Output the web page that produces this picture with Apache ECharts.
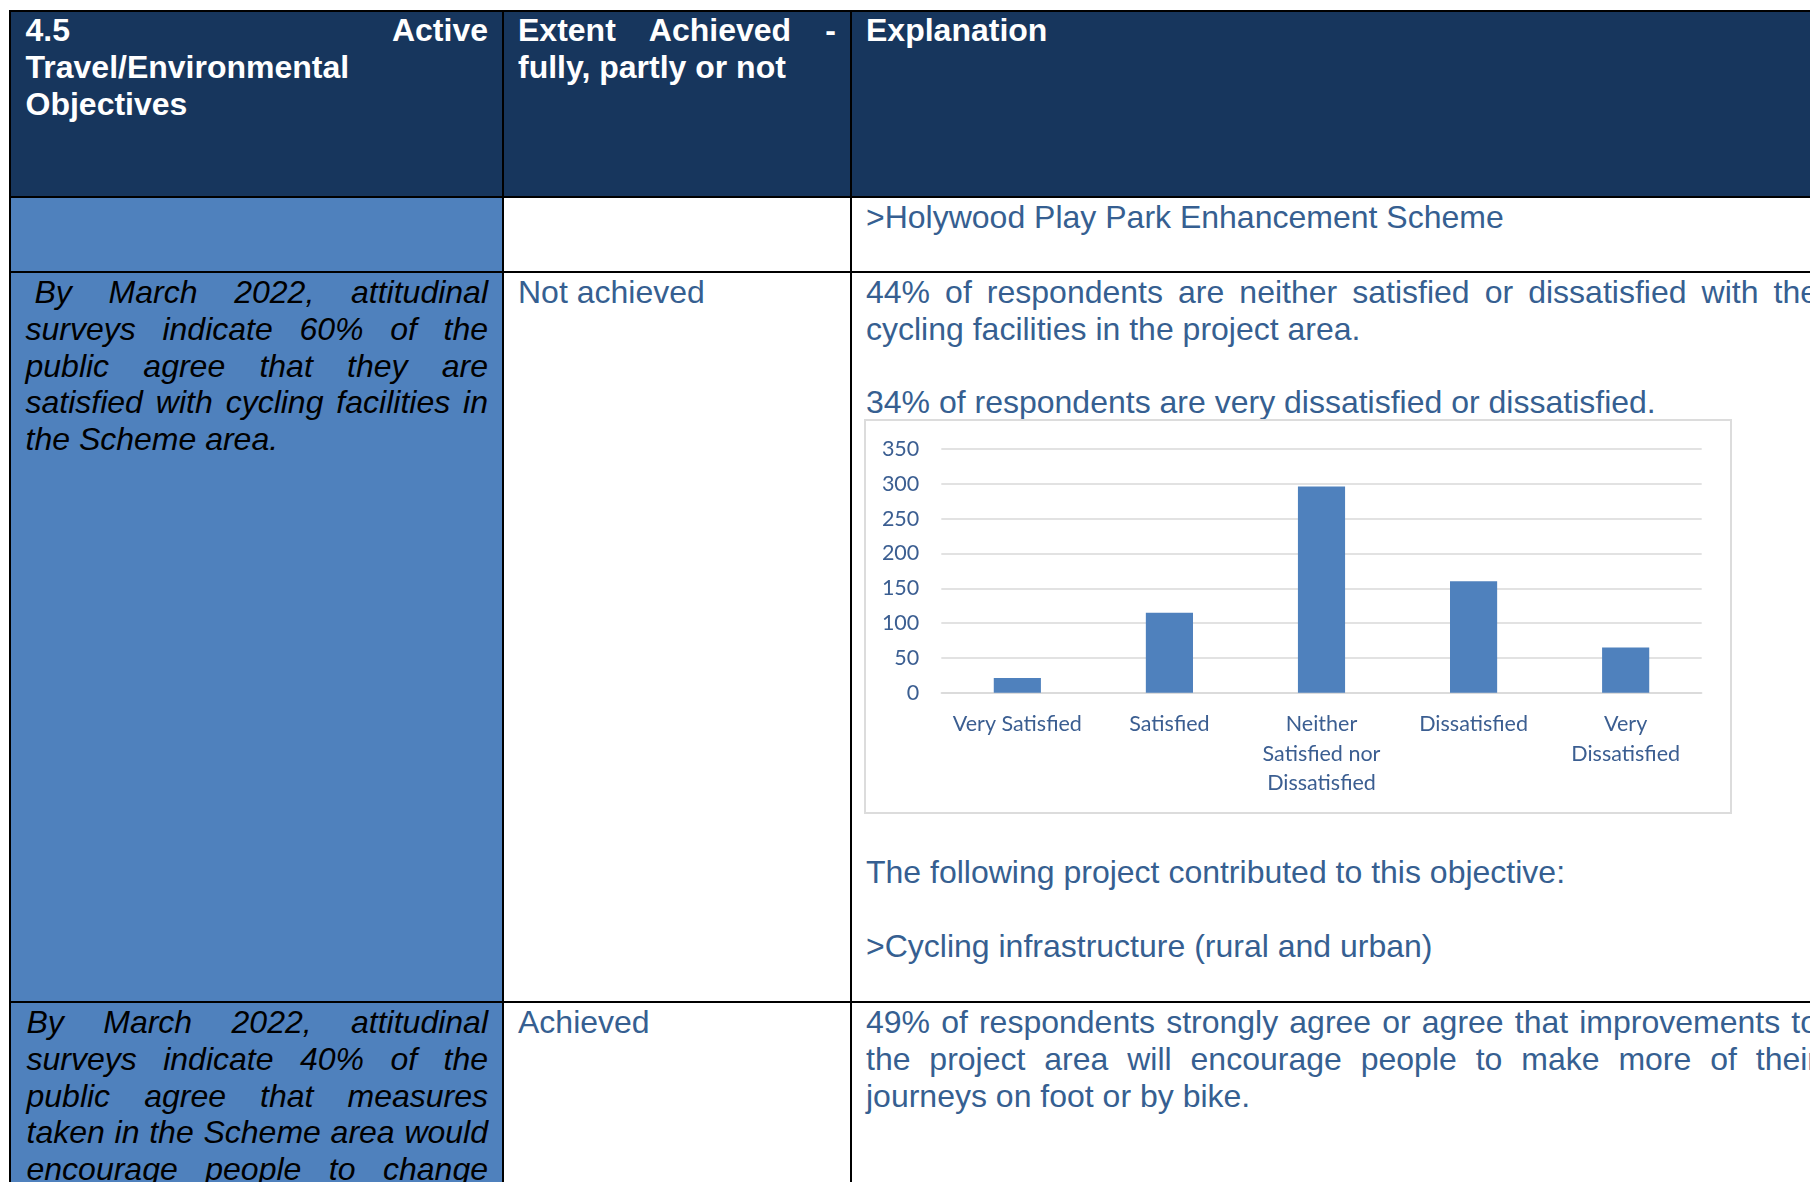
<!DOCTYPE html>
<html><head><meta charset="utf-8">
<script src="https://cdn.jsdelivr.net/npm/echarts@6/dist/echarts.min.js"></script>
<style>
html,body{margin:0;padding:0;background:#fff;}
body{width:1810px;height:1182px;overflow:hidden;position:relative;font-family:"Liberation Sans",Arial,sans-serif;font-size:32px;line-height:36.8px;}
.ln{position:absolute;background:#000;}
.bg{position:absolute;}
.t{position:absolute;}
.t div{min-height:36.8px;}
.j{text-align:justify;text-align-last:justify;}
.hd{color:#fff;font-weight:bold;}
.bd{color:#365F91;}
.it{color:#000;font-style:italic;}
#wrap{position:absolute;left:864px;top:419px;width:868px;height:395px;box-sizing:border-box;border:2px solid #DCDCDC;background:#fff;}
#chart{width:864px;height:391px;}
</style></head>
<body>
<!-- backgrounds -->
<div class="bg" style="left:11px;top:12px;width:1799px;height:184px;background:#17365D"></div>
<div class="bg" style="left:11px;top:198px;width:491px;height:73px;background:#4F81BD"></div>
<div class="bg" style="left:11px;top:273px;width:491px;height:728px;background:#4F81BD"></div>
<div class="bg" style="left:11px;top:1003px;width:491px;height:179px;background:#4F81BD"></div>
<!-- table rules -->
<div class="ln" style="left:9px;top:10px;width:1801px;height:2px"></div>
<div class="ln" style="left:9px;top:196px;width:1801px;height:2px"></div>
<div class="ln" style="left:9px;top:271px;width:1801px;height:2px"></div>
<div class="ln" style="left:9px;top:1001px;width:1801px;height:2px"></div>
<div class="ln" style="left:9px;top:10px;width:2px;height:1172px"></div>
<div class="ln" style="left:502px;top:10px;width:2px;height:1172px"></div>
<div class="ln" style="left:850px;top:10px;width:2px;height:1172px"></div>

<!-- header -->
<div class="t hd" style="left:25.5px;top:12px;width:462.5px">
  <div class="j">4.5 Active</div>
  <div>Travel/Environmental</div>
  <div>Objectives</div>
</div>
<div class="t hd" style="left:518px;top:12px;width:318px">
  <div class="j">Extent Achieved -</div>
  <div>fully, partly or not</div>
</div>
<div class="t hd" style="left:866px;top:12px;width:952px">
  <div>Explanation</div>
</div>

<!-- row 1 -->
<div class="t bd" style="left:866px;top:199px;width:952px">
  <div>&gt;Holywood Play Park Enhancement Scheme</div>
</div>

<!-- row 2 -->
<div class="t it" style="left:25.5px;top:274px;width:462.5px">
  <div class="j" style="text-indent:9px">By March 2022, attitudinal</div>
  <div class="j">surveys indicate 60% of the</div>
  <div class="j">public agree that they are</div>
  <div class="j">satisfied with cycling facilities in</div>
  <div>the Scheme area.</div>
</div>
<div class="t bd" style="left:518px;top:274px;width:318px">
  <div>Not achieved</div>
</div>
<div class="t bd" style="left:866px;top:274px;width:952px">
  <div class="j">44% of respondents are neither satisfied or dissatisfied with the</div>
  <div>cycling facilities in the project area.</div>
  <div></div>
  <div>34% of respondents are very dissatisfied or dissatisfied.</div>
</div>
<div id="wrap"><div id="chart"></div></div>
<div class="t bd" style="left:866px;top:854px;width:952px">
  <div>The following project contributed to this objective:</div>
  <div></div>
  <div>&gt;Cycling infrastructure (rural and urban)</div>
</div>

<!-- row 3 -->
<div class="t it" style="left:26.5px;top:1004px;width:461.5px">
  <div class="j">By March 2022, attitudinal</div>
  <div class="j">surveys indicate 40% of the</div>
  <div class="j">public agree that measures</div>
  <div class="j">taken in the Scheme area would</div>
  <div class="j">encourage people to change</div>
</div>
<div class="t bd" style="left:518px;top:1004px;width:318px">
  <div>Achieved</div>
</div>
<div class="t bd" style="left:866px;top:1004px;width:952px">
  <div class="j">49% of respondents strongly agree or agree that improvements to</div>
  <div class="j">the project area will encourage people to make more of their</div>
  <div>journeys on foot or by bike.</div>
</div>

<script>
const categories = ['Very Satisfied', 'Satisfied', 'Neither Satisfied nor Dissatisfied', 'Dissatisfied', 'Very Dissatisfied'];
const categoryLabels = ['Very Satisfied', 'Satisfied', 'Neither\nSatisfied nor\nDissatisfied', 'Dissatisfied', 'Very\nDissatisfied'];
const respondents = [21, 115, 296, 160, 65];
const yMin = 0;
const yMax = 350;
const yInterval = 50;

const labelColor = '#3B5E91';
const gridColor = '#D9D9D9';
const chart = echarts.init(document.getElementById('chart'), null, {renderer: 'canvas'});
chart.setOption({
  animation: false,
  backgroundColor: '#fff',
  textStyle: {fontFamily: 'Lato'},
  grid: {left: 75.3, right: 28.3, top: 28, bottom: 119.3, containLabel: false},
  xAxis: {
    type: 'category',
    data: categories,
    axisTick: {show: false},
    axisLine: {lineStyle: {color: gridColor, width: 1.5}},
    axisLabel: {
      interval: 0,
      color: labelColor,
      fontFamily: 'Lato',
      fontSize: 21.5,
      lineHeight: 29.5,
      margin: 17,
      formatter: function (v, i) { return categoryLabels[i]; }
    }
  },
  yAxis: {
    type: 'value',
    min: yMin, max: yMax, interval: yInterval,
    axisLine: {show: false},
    axisTick: {show: false},
    splitLine: {lineStyle: {color: gridColor, width: 1.5}},
    axisLabel: {color: labelColor, fontFamily: 'Lato', fontSize: 21.5, margin: 22}
  },
  series: [{
    type: 'bar',
    data: respondents,
    barWidth: '31%',
    itemStyle: {color: '#4F81BD'}
  }]
});
</script>
</body></html>
